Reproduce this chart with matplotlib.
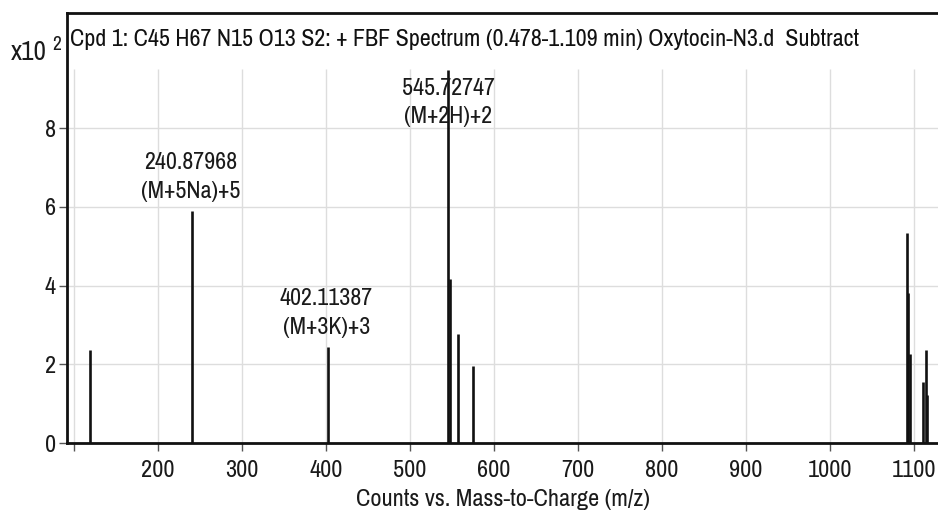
import matplotlib
matplotlib.use("Agg")
import matplotlib.pyplot as plt

# peak list (m/z, counts x10^2)
mz = [119.9, 240.87968, 402.11387, 545.72747, 548.0, 557.5, 575.5,
      1090.8, 1092.0, 1094.6, 1110.8, 1113.8, 1115.3]
counts = [2.36, 5.89, 2.43, 9.48, 4.17, 2.78, 1.96,
          5.34, 3.80, 2.26, 1.54, 2.36, 1.22]

# labelled peaks
label_mz = [240.87968, 402.11387, 545.72747]
label_ion = ["(M+5Na)+5", "(M+3K)+3", "(M+2H)+2"]

x_ticks = [100, 200, 300, 400, 500, 600, 700, 800, 900, 1000, 1100]
x_ticklabels = ["", "200", "300", "400", "500", "600", "700", "800", "900", "1000", "1100"]
y_ticks = [0, 2, 4, 6, 8]

TITLE = "Cpd 1: C45 H67 N15 O13 S2: + FBF Spectrum (0.478-1.109 min) Oxytocin-N3.d  Subtract"

plt.rcParams["font.family"] = ["Archivo Narrow", "Liberation Sans", "DejaVu Sans"]

XMIN, XMAX = 92.2, 1128.2
YMIN, YMAX = 0.0, 10.92
GRID_TOP = 9.5
FS = 17.3

fig = plt.figure(figsize=(9.38, 5.16), dpi=100)
ax = fig.add_axes([67 / 938, (516 - 443) / 516, 1 - 67 / 938, (443 - 13.3) / 516])

ax.set_xlim(XMIN, XMAX)
ax.set_ylim(YMIN, YMAX)

# grid, kept below the title band
for t in x_ticks:
    ax.vlines(t, YMIN, GRID_TOP, color="#dddddd", lw=1.0, zorder=0)
for t in y_ticks[1:]:
    ax.axhline(t, color="#dddddd", lw=1.0, zorder=0)

ax.vlines(mz, 0, counts, color="#111111", lw=1.9, zorder=2)

heights = dict(zip(mz, counts))
for m, ion in zip(label_mz, label_ion):
    if heights[m] > GRID_TOP - 0.1:
        # off-scale peak: label sits at a fixed height
        ax.text(m, 8.02, f"{m:.5f}\n{ion}", ha="center", va="bottom",
                fontsize=FS, color="#1a1a1a", linespacing=1.45, zorder=3)
    else:
        ax.annotate(f"{m:.5f}\n{ion}", (m, heights[m]), xytext=(-1, 7), textcoords="offset points",
                    ha="center", va="bottom", fontsize=FS, color="#1a1a1a",
                    linespacing=1.45, zorder=3)

ax.text(0.004, 0.938, TITLE, transform=ax.transAxes, ha="left", va="center",
        fontsize=FS, color="#111111")

ax.set_xticks(x_ticks)
ax.set_xticklabels(x_ticklabels)
ax.set_yticks(y_ticks)
ax.tick_params(axis="both", labelsize=17.5, colors="#1a1a1a", width=1.0, length=6, pad=4)
ax.tick_params(axis="x", color="#555555", pad=6)
ax.tick_params(axis="y", color="#555555", pad=2)

for side in ["left", "top", "bottom"]:
    ax.spines[side].set_linewidth(2.0)
    ax.spines[side].set_color("#111111")
ax.spines["right"].set_visible(False)

ax.set_xlabel("Counts vs. Mass-to-Charge (m/z)", fontsize=17.5, color="#1a1a1a", labelpad=6)

fig.text(11 / 938, 1 - 52 / 516, "x10", fontsize=19.5, ha="left", va="center", color="#1a1a1a")
fig.text(52 / 938, 1 - 44 / 516, "2", fontsize=14, ha="left", va="center", color="#1a1a1a")

fig.savefig("out.png", dpi=100, facecolor="white")
